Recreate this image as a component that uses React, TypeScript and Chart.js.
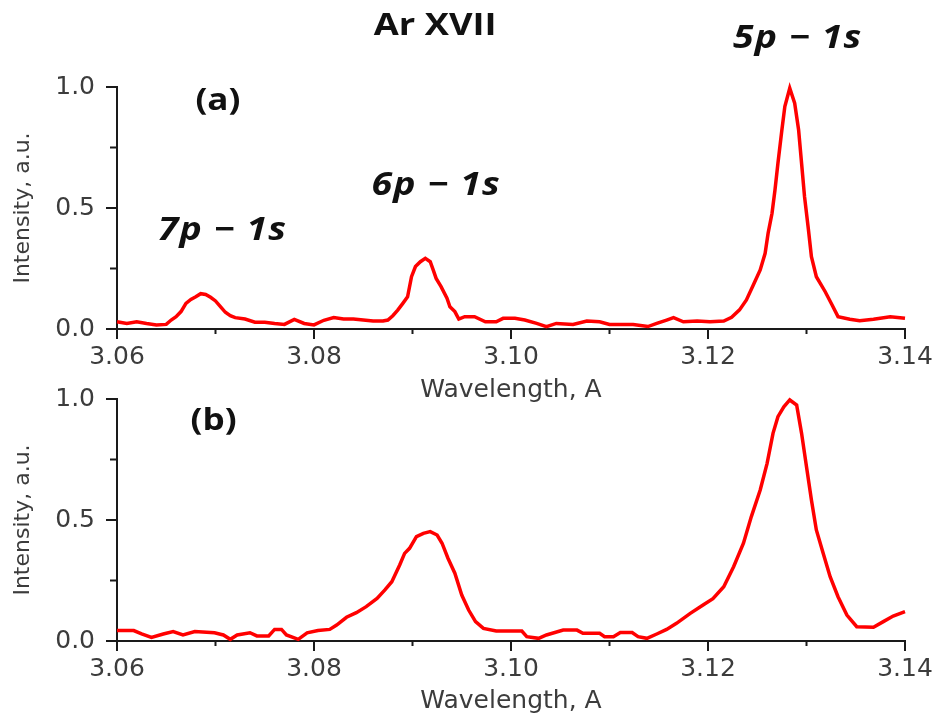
import React, { useEffect, useRef } from 'react';
import { Chart, registerables } from 'chart.js';

Chart.register(...registerables);

// ---- data: panel (a) ----
const lambdaA = [
  3.06, 3.061, 3.062, 3.063, 3.064, 3.065, 3.0655, 3.066, 3.0665, 3.067, 3.0675, 3.068, 3.0685, 3.069,
  3.0695, 3.07, 3.0705, 3.071, 3.0715, 3.072, 3.073, 3.074, 3.075, 3.076, 3.077, 3.078, 3.079, 3.08,
  3.081, 3.082, 3.083, 3.084, 3.085, 3.086, 3.087, 3.0875, 3.088, 3.0885, 3.089, 3.0895, 3.0899, 3.0903,
  3.0908, 3.0913, 3.0918, 3.0921, 3.0924, 3.0929, 3.0935, 3.0938, 3.0943, 3.0947, 3.0953, 3.0963, 3.0974,
  3.0985, 3.0992, 3.1004, 3.1014, 3.1026, 3.1036, 3.1046, 3.1063, 3.1077, 3.109, 3.11, 3.1124, 3.1139,
  3.1148, 3.1158, 3.1165, 3.1175, 3.1189, 3.1202, 3.1216, 3.1224, 3.1232, 3.1239, 3.1246, 3.1253, 3.1258,
  3.1261, 3.1265, 3.1268, 3.1271, 3.1275, 3.1278, 3.1283, 3.1288, 3.1292, 3.1295, 3.1298, 3.1302, 3.1305,
  3.131, 3.1319, 3.1326, 3.1332, 3.1344, 3.1354, 3.1368, 3.1385, 3.14,
];
const intensityA = [
  0.03, 0.023, 0.03, 0.023, 0.017, 0.019, 0.037, 0.051, 0.072, 0.106, 0.122, 0.133, 0.146, 0.143,
  0.131, 0.116, 0.092, 0.069, 0.055, 0.047, 0.041, 0.028, 0.028, 0.023, 0.019, 0.04, 0.023, 0.017,
  0.036, 0.047, 0.041, 0.041, 0.037, 0.033, 0.033, 0.037, 0.055, 0.078, 0.105, 0.133, 0.216, 0.258,
  0.278, 0.292, 0.278, 0.244, 0.209, 0.175, 0.127, 0.092, 0.072, 0.041, 0.051, 0.051, 0.03,
  0.03, 0.044, 0.044, 0.037, 0.023, 0.01, 0.023, 0.019, 0.033, 0.03, 0.019, 0.019, 0.01,
  0.023, 0.037, 0.047, 0.03, 0.033, 0.03, 0.033, 0.048, 0.079, 0.12, 0.182, 0.244, 0.313,
  0.395, 0.478, 0.574, 0.685, 0.822, 0.919, 0.995, 0.933, 0.822, 0.685, 0.547, 0.409, 0.299,
  0.216, 0.154, 0.099, 0.051, 0.04, 0.034, 0.04, 0.051, 0.044,
];

// ---- data: panel (b) ----
const lambdaB = [
  3.06, 3.0617, 3.0625, 3.0635, 3.0647, 3.0657, 3.0667, 3.0679, 3.0699, 3.0708, 3.0715, 3.0722, 3.0735,
  3.0742, 3.0754, 3.076, 3.0767, 3.0772, 3.0784, 3.0793, 3.0804, 3.0816, 3.0823, 3.0833, 3.0843, 3.0853,
  3.0864, 3.0872, 3.0879, 3.0887, 3.0892, 3.0897, 3.0904, 3.0911, 3.0918, 3.0925, 3.093, 3.0936, 3.0943,
  3.095, 3.0957, 3.0964, 3.0972, 3.0985, 3.1011, 3.1016, 3.1028, 3.1036, 3.1053, 3.1067, 3.1073, 3.109,
  3.1095, 3.1104, 3.1111, 3.1123, 3.1129, 3.1138, 3.1148, 3.1158, 3.1168, 3.1182, 3.1195, 3.1205, 3.1216,
  3.1226, 3.1236, 3.1244, 3.1253, 3.126, 3.1266, 3.1271, 3.1277, 3.1283, 3.129, 3.1295, 3.13, 3.1305,
  3.131, 3.1317, 3.1324, 3.1332, 3.1341, 3.1351, 3.1368, 3.1378, 3.1388, 3.14,
];
const intensityB = [
  0.043, 0.043, 0.029, 0.015, 0.029, 0.039, 0.025, 0.039, 0.034, 0.025, 0.007, 0.025, 0.034,
  0.021, 0.021, 0.048, 0.048, 0.025, 0.007, 0.034, 0.043, 0.048, 0.066, 0.098, 0.117, 0.142,
  0.176, 0.211, 0.245, 0.314, 0.362, 0.383, 0.431, 0.445, 0.452, 0.438, 0.404, 0.342, 0.28,
  0.19, 0.128, 0.08, 0.052, 0.041, 0.041, 0.018, 0.011, 0.025, 0.045, 0.045, 0.032, 0.032,
  0.018, 0.018, 0.035, 0.035, 0.018, 0.011, 0.029, 0.048, 0.073, 0.114, 0.149, 0.175, 0.224,
  0.307, 0.404, 0.514, 0.624, 0.734, 0.858, 0.927, 0.968, 0.996, 0.975, 0.858, 0.72, 0.583,
  0.459, 0.362, 0.266, 0.183, 0.107, 0.059, 0.057, 0.08, 0.103, 0.121,
];

// ---- axes ----
const xMajorTicks = [3.06, 3.08, 3.1, 3.12, 3.14];
const xMinorTicks = [3.07, 3.09, 3.11, 3.13];
const yMajorTicks = [0, 0.5, 1.0];
const yMinorTicks = [0.25, 0.75];
const xAxisTitle = 'Wavelength, A';
const yAxisTitle = 'Intensity, a.u.';

// ---- text labels anchored in data units ----
const labelsA = [
  { text: 'Ar XVII', x: 3.0923, y: 1.215, italic: false, size: 31 },
  { text: '5p − 1s', x: 3.1291, y: 1.161, italic: true, size: 32 },
  { text: '(a)', x: 3.07025, y: 0.905, italic: false, size: 30 },
  { text: '6p − 1s', x: 3.0924, y: 0.554, italic: true, size: 32 },
  { text: '7p − 1s', x: 3.0707, y: 0.368, italic: true, size: 32 },
];
const labelsB = [{ text: '(b)', x: 3.0698, y: 0.872, italic: false, size: 30 }];

const AXIS_COLOR = '#1a1a1a';
const TEXT_COLOR = '#3c3c3c';

function makePlugins(labels: any[]) {
  return [
    {
      id: 'ticksAndLabels',
      afterDraw(chart: any) {
        const { ctx } = chart;
        const xs = chart.scales.x;
        const ys = chart.scales.y;
        const yb = ys.getPixelForValue(0);
        const xl = xs.getPixelForValue(3.06);
        ctx.save();
        ctx.strokeStyle = AXIS_COLOR;
        ctx.lineWidth = 2;
        ctx.beginPath();
        xMajorTicks.forEach((v) => {
          const p = xs.getPixelForValue(v);
          ctx.moveTo(p, yb);
          ctx.lineTo(p, yb + 10);
        });
        xMinorTicks.forEach((v) => {
          const p = xs.getPixelForValue(v);
          ctx.moveTo(p, yb);
          ctx.lineTo(p, yb + 5);
        });
        yMajorTicks.forEach((v) => {
          const p = ys.getPixelForValue(v);
          ctx.moveTo(xl, p);
          ctx.lineTo(xl - 11, p);
        });
        yMinorTicks.forEach((v) => {
          const p = ys.getPixelForValue(v);
          ctx.moveTo(xl, p);
          ctx.lineTo(xl - 7, p);
        });
        ctx.stroke();

        ctx.fillStyle = '#111111';
        ctx.textAlign = 'center';
        ctx.textBaseline = 'alphabetic';
        labels.forEach((l) => {
          const px = xs.getPixelForValue(l.x);
          const py = ys.getPixelForValue(l.y);
          ctx.save();
          ctx.translate(px, py);
          ctx.scale(1.17, 1);
          ctx.font = (l.italic ? 'italic ' : '') + 'bold ' + l.size + 'px "Open Sans", "DejaVu Sans", sans-serif';
          if (l.italic) (ctx as any).letterSpacing = '1px';
          ctx.fillText(l.text, 0, 0);
          ctx.restore();
        });
        ctx.restore();
      },
    },
  ];
}

const zeroPadding = (s: any) => {
  s.paddingTop = 0;
  s.paddingBottom = 0;
  s.paddingLeft = 0;
  s.paddingRight = 0;
};

function makeConfig(xData: number[], yData: number[], labels: any[], top: number, xAxisH: number, titlePad: number) {
  return {
    type: 'line' as const,
    data: {
      datasets: [
        {
          data: xData.map((x, i) => ({ x, y: yData[i] })),
          borderColor: '#ff0000',
          borderWidth: 3.5,
          pointRadius: 0,
          tension: 0,
          fill: false,
          clip: false as any,
        },
      ],
    },
    options: {
      responsive: false,
      animation: false as const,
      layout: { padding: { top, right: 31, left: 0, bottom: 0 } },
      plugins: { legend: { display: false }, tooltip: { enabled: false }, title: { display: false } },
      scales: {
        x: {
          type: 'linear' as const,
          min: 3.06,
          max: 3.14,
          afterBuildTicks: (s: any) => {
            s.ticks = xMajorTicks.map((v) => ({ value: v }));
          },
          afterFit: (s: any) => {
            s.height = xAxisH;
            zeroPadding(s);
          },
          grid: { display: false, drawTicks: false },
          border: { display: true, color: AXIS_COLOR, width: 2 },
          ticks: {
            padding: 13,
            color: TEXT_COLOR,
            font: { family: '"DejaVu Sans", sans-serif', size: 25 },
            maxRotation: 0,
            autoSkip: false,
            callback: (v: any) => Number(v).toFixed(2),
          },
          title: {
            display: true,
            text: xAxisTitle,
            color: TEXT_COLOR,
            font: { family: '"DejaVu Sans", sans-serif', size: 25 },
            padding: { top: 0, bottom: titlePad },
          },
        },
        y: {
          type: 'linear' as const,
          min: 0,
          max: 1,
          afterBuildTicks: (s: any) => {
            s.ticks = yMajorTicks.map((v) => ({ value: v }));
          },
          afterFit: (s: any) => {
            s.width = 117;
            zeroPadding(s);
          },
          grid: { display: false, drawTicks: false },
          border: { display: true, color: AXIS_COLOR, width: 2 },
          ticks: {
            padding: 22,
            color: TEXT_COLOR,
            font: { family: '"DejaVu Sans", sans-serif', size: 25 },
            callback: (v: any) => Number(v).toFixed(1),
          },
          title: {
            display: true,
            text: yAxisTitle,
            color: TEXT_COLOR,
            font: { family: '"DejaVu Sans", sans-serif', size: 22 },
            padding: { top: 10, bottom: 0 },
          },
        },
      },
    },
    plugins: makePlugins(labels),
  };
}

export default function App() {
  const refA = useRef<HTMLCanvasElement>(null);
  const refB = useRef<HTMLCanvasElement>(null);

  useEffect(() => {
    const a = new Chart(refA.current as HTMLCanvasElement, makeConfig(lambdaA, intensityA, labelsA, 87, 81, 5) as any);
    const b = new Chart(refB.current as HTMLCanvasElement, makeConfig(lambdaB, intensityB, labelsB, 19, 76, 1) as any);
    return () => {
      a.destroy();
      b.destroy();
    };
  }, []);

  return (
    <div style={{ position: 'absolute', left: 0, top: 0, width: 936, height: 717, background: '#ffffff' }}>
      <canvas ref={refA} width={936} height={410} style={{ position: 'absolute', left: 0, top: 0, width: 936, height: 410 }} />
      <canvas ref={refB} width={936} height={337} style={{ position: 'absolute', left: 0, top: 380, width: 936, height: 337 }} />
    </div>
  );
}
